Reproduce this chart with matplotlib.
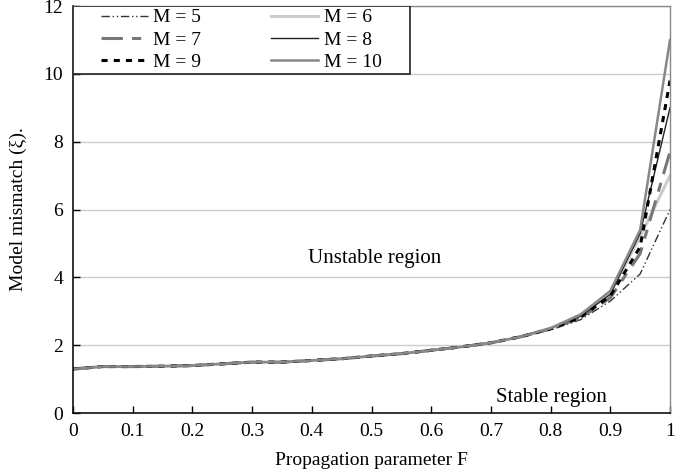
import matplotlib.pyplot as plt
from matplotlib.patches import Rectangle

plt.rcParams['font.family'] = ['Liberation Serif', 'DejaVu Serif']

# propagation parameter F
F = [0.0, 0.05, 0.1, 0.15, 0.2, 0.25, 0.3, 0.35, 0.4, 0.45, 0.5,
     0.55, 0.6, 0.65, 0.7, 0.75, 0.8, 0.85, 0.9, 0.95, 1.0]

# model mismatch for each M
m5 = [1.30, 1.37, 1.37, 1.38, 1.40, 1.45, 1.50, 1.50, 1.55, 1.60, 1.68,
      1.75, 1.85, 1.95, 2.07, 2.25, 2.45, 2.75, 3.30, 4.10, 6.0]
m6 = [1.30, 1.37, 1.37, 1.38, 1.40, 1.45, 1.50, 1.50, 1.55, 1.60, 1.68,
      1.75, 1.85, 1.95, 2.07, 2.25, 2.50, 2.90, 3.55, 5.20, 7.0]
m7 = [1.30, 1.37, 1.37, 1.38, 1.40, 1.45, 1.50, 1.50, 1.55, 1.60, 1.68,
      1.75, 1.85, 1.95, 2.07, 2.25, 2.48, 2.80, 3.40, 4.70, 7.7]
m8 = [1.30, 1.37, 1.37, 1.38, 1.40, 1.45, 1.50, 1.50, 1.55, 1.60, 1.68,
      1.75, 1.85, 1.95, 2.07, 2.25, 2.50, 2.85, 3.50, 5.30, 9.0]
m9 = [1.30, 1.37, 1.37, 1.38, 1.40, 1.45, 1.50, 1.50, 1.55, 1.60, 1.68,
      1.75, 1.85, 1.95, 2.07, 2.25, 2.48, 2.82, 3.45, 4.90, 9.8]
m10 = [1.30, 1.37, 1.37, 1.38, 1.40, 1.45, 1.50, 1.50, 1.55, 1.60, 1.68,
       1.75, 1.85, 1.95, 2.07, 2.25, 2.50, 2.90, 3.60, 5.40, 11.0]

fig = plt.figure(figsize=(6.98, 4.73), dpi=100)
ax = fig.add_axes([0.1046, 0.1268, 0.8553, 0.8605])

l5, = ax.plot(F, m5, color='#333333', lw=1.0, ls=(0, (6, 2, 1, 2, 1, 2)), label='M = 5')
l6, = ax.plot(F, m6, color='#cccccc', lw=2.2, ls='-', label='M = 6')
l7, = ax.plot(F, m7, color='#777777', lw=2.2, ls=(0, (7, 3, 3, 3)), label='M = 7')
l8, = ax.plot(F, m8, color='#222222', lw=1.0, ls='-', label='M = 8')
l9, = ax.plot(F, m9, color='#000000', lw=2.2, ls=(0, (2, 2)), label='M = 9')
l10, = ax.plot(F, m10, color='#888888', lw=1.8, ls='-', label='M = 10')

ax.set_xlim(0, 1)
ax.set_ylim(0, 12)
ax.set_xticks([0, 0.1, 0.2, 0.3, 0.4, 0.5, 0.6, 0.7, 0.8, 0.9, 1])
ax.set_xticklabels(['0', '0.1', '0.2', '0.3', '0.4', '0.5', '0.6', '0.7', '0.8', '0.9', '1'])
ax.set_yticks([0, 2, 4, 6, 8, 10, 12])
ax.yaxis.grid(True, color='#cccccc', lw=1.0)
ax.set_axisbelow(True)
ax.tick_params(direction='in', labelsize=14, length=5, width=1, pad=7)
for side in ['left', 'bottom']:
    ax.spines[side].set_color('#111111')
    ax.spines[side].set_linewidth(1.2)
for side in ['top', 'right']:
    ax.spines[side].set_color('#888888')
    ax.spines[side].set_linewidth(1.0)

ax.set_xlabel('Propagation parameter F', fontsize=14, labelpad=9)
ax.set_ylabel('Model mismatch (\u03be).', fontsize=14, labelpad=12)

ax.text(0.506, 4.57, 'Unstable region', fontsize=15, ha='center', va='center')
ax.text(0.802, 0.47, 'Stable region', fontsize=15, ha='center', va='center')

# legend box (frame drawn separately to match the wide padding)
ax.add_patch(Rectangle((0, 10), 0.565, 2, transform=ax.transData, fill=True,
                       facecolor='white', edgecolor='#222222', lw=1.2, zorder=4))
handles = [l5, l6, l7, l8, l9, l10]
order = [0, 2, 4, 1, 3, 5]
leg = ax.legend([handles[i] for i in order], [handles[i].get_label() for i in order],
                loc='center', bbox_to_anchor=(0.282, 11.0),
                bbox_transform=ax.transData, ncol=2, fontsize=14, frameon=False,
                handlelength=2.4, handletextpad=0.3, columnspacing=3.6,
                labelspacing=0.24, borderpad=0)
leg.set_zorder(5)

fig.savefig('out.png', dpi=100)
